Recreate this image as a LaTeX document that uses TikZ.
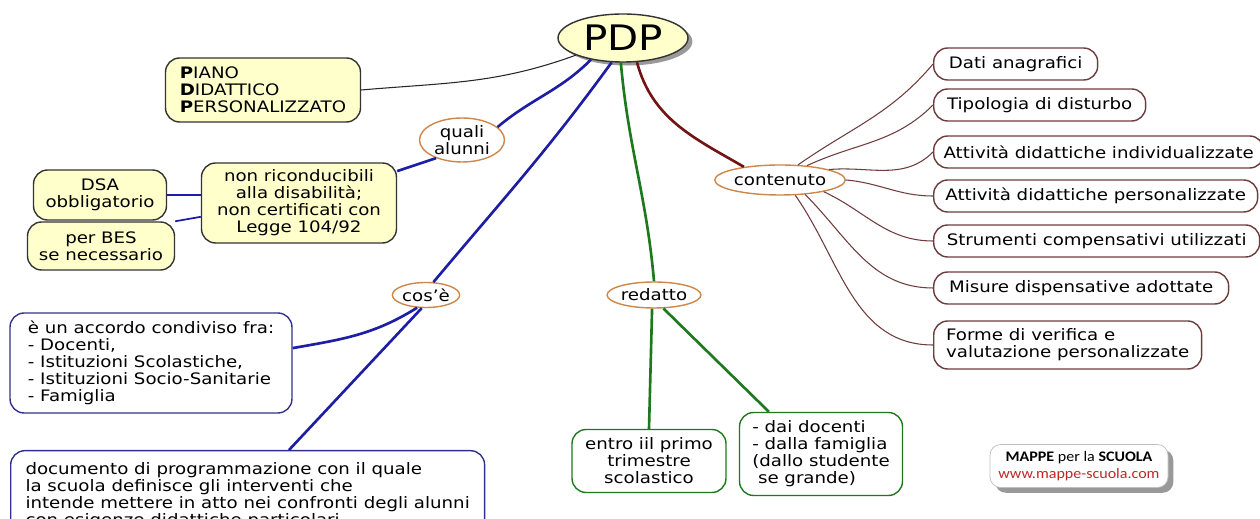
\documentclass[tikz,border=0pt]{standalone}
\usepackage{xcolor}
\usepackage{fontspec}
\setmainfont[FakeStretch=1.15]{DejaVu Sans}
\newfontfamily\logofont[FakeStretch=1.1]{Carlito}
\usepackage{tikz}
\usetikzlibrary{shapes.geometric}
\usetikzlibrary{shadows}
\usetikzlibrary{calc}

\definecolor{mapyellow}{RGB}{255,255,204}
\definecolor{mapblue}{RGB}{30,30,165}
\definecolor{boxblue}{RGB}{50,50,140}
\definecolor{mapgreen}{RGB}{30,120,30}
\definecolor{mapred}{RGB}{115,20,20}
\definecolor{mapbrown}{RGB}{110,60,60}
\definecolor{maporange}{RGB}{205,135,75}
\definecolor{logored}{RGB}{190,40,40}

\tikzset{
  mapbox/.style={draw, rounded corners=8pt, line width=0.8pt, inner xsep=5pt, inner ysep=3pt,
    font=\fontsize{9}{9.7}\selectfont},
  yellowbox/.style={mapbox, draw=black!80, fill=mapyellow},
  bluebox/.style={mapbox, draw=boxblue, fill=white},
  greenbox/.style={mapbox, draw=mapgreen, fill=white},
  brownbox/.style={mapbox, draw=mapbrown, fill=white, anchor=west, align=left, minimum height=0.64cm},
  linkword/.style={ellipse, draw=maporange, line width=0.8pt, fill=white, inner sep=0pt,
    font=\fontsize{9}{9.7}\selectfont},
  thicklink/.style={line width=1.5pt},
  thinlink/.style={line width=0.6pt},
}

\begin{document}
\begin{tikzpicture}[x=0.02cm, y=0.02cm]
    \useasboundingbox[fill=white] (0,0) rectangle (1260,-519);

    \node[ellipse, draw=black!80, line width=0.8pt, fill=mapyellow, minimum width=2.6cm, minimum height=0.96cm,
      inner sep=0pt, font=\fontsize{20}{20}\selectfont,
      drop shadow={fill=black!40, opacity=1, shadow xshift=2.5pt, shadow yshift=-2pt}] (pdp) at (623,-38) {PDP};

    \node[yellowbox, align=left, minimum width=3.9cm, minimum height=1.28cm] (piano) at (263,-90)
      {\textbf{P}IANO\\\textbf{D}IDATTICO\\\textbf{P}ERSONALIZZATO};
    \node[linkword, align=center, minimum width=1.7cm, minimum height=0.88cm] (quali) at (462,-140) {quali\\alunni};
    \node[yellowbox, align=center, minimum width=3.9cm, minimum height=1.6cm] (nonric) at (299,-203)
      {non riconducibili\\alla disabilità;\\non certificati con\\Legge 104/92};
    \node[yellowbox, align=center, minimum width=2.66cm, minimum height=1cm] (dsa) at (100,-195) {DSA\\obbligatorio};
    \node[yellowbox, align=center, minimum width=2.94cm, minimum height=0.96cm] (bes) at (101,-246) {per BES\\se necessario};

    \node[linkword, minimum width=1.24cm, minimum height=0.5cm] (cose) at (426,-295) {cos'è};
    \node[bluebox, align=left, minimum width=5.64cm, minimum height=2cm] (accordo) at (151,-363)
      {è un accordo condiviso fra:\\- Docenti,\\- Istituzioni Scolastiche,\\- Istituzioni Socio-Sanitarie\\- Famiglia};
    \node[bluebox, align=left, anchor=north west, minimum width=9.48cm, minimum height=1.8cm] (documento) at (10,-450)
      {documento di programmazione con il quale\\la scuola definisce gli interventi che\\intende mettere in atto nei confronti degli alunni\\con esigenze didattiche particolari};

    \node[linkword, minimum width=1.56cm, minimum height=0.52cm] (redatto) at (654,-295) {redatto};
    \node[greenbox, align=center, minimum width=3.08cm, minimum height=1.26cm] (entro) at (649,-461)
      {entro iil primo\\trimestre\\scolastico};
    \node[greenbox, align=left, minimum width=3.26cm, minimum height=1.66cm] (dai) at (821,-454)
      {- dai docenti\\- dalla famiglia\\(dallo studente\\\ se grande)};

    \node[linkword, minimum width=2.06cm, minimum height=0.6cm] (contenuto) at (780,-180) {contenuto};
    \node[brownbox, minimum width=3.28cm] (dati) at (933,-64) {Dati anagrafici};
    \node[brownbox, minimum width=4.24cm] (tipo) at (933,-105) {Tipologia di disturbo};
    \node[brownbox, minimum width=6.6cm] (indiv) at (933,-152) {Attività didattiche individualizzate};
    \node[brownbox, minimum width=6.48cm] (pers) at (933,-196) {Attività didattiche personalizzate};
    \node[brownbox, minimum width=6.52cm] (strum) at (933,-241) {Strumenti compensativi utilizzati};
    \node[brownbox, minimum width=5.9cm] (misure) at (933,-288) {Misure dispensative adottate};
    \node[brownbox, minimum width=5.36cm, minimum height=0.96cm] (forme) at (933,-345)
      {Forme di verifica e\\valutazione personalizzate};

    \node[draw=black!25, fill=white, rounded corners=6pt, minimum width=3.56cm, minimum height=0.86cm,
      align=center, inner sep=2pt, font=\logofont\fontsize{8.3}{10}\selectfont,
      drop shadow={fill=black!40, opacity=1, shadow xshift=3pt, shadow yshift=-3pt}] (logo) at (1079,-466)
      {\textbf{MAPPE} per la \textbf{SCUOLA}\\\textcolor{logored}{www.mappe-scuola.com}};

    \draw[thinlink, black!85] (pdp.200) to[out=200, in=5] (piano.east);
    \draw[thicklink, mapblue] (pdp.214) to[out=225, in=40] (quali.20);
    \draw[thicklink, mapblue] (quali.215) -- (nonric.18);
    \draw[line width=1pt, mapblue] (dsa.east) -- (dsa.east -| nonric.west);
    \draw[line width=1pt, mapblue] (bes.north east) -- (nonric.188);
    \draw[thicklink, mapblue] (pdp.245) to[out=234, in=50] (cose.60);
    \draw[thicklink, mapblue] (cose.235) to[out=212, in=10] (accordo.6);
    \draw[thicklink, mapblue] (cose.252) -- ($(documento.north west)!0.587!(documento.north east)$);
    \draw[thicklink, mapgreen] (pdp.265) to[out=-85, in=95] (redatto.north);
    \draw[thicklink, mapgreen] (redatto.262) -- (entro.north);
    \draw[thicklink, mapgreen] (redatto.305) -- (dai.141);
    \draw[thicklink, mapred] (pdp.300) to[out=-75, in=150] (contenuto.160);
    \draw[thinlink, mapbrown] (contenuto.40) to[out=35, in=230] (dati.west);
    \draw[thinlink, mapbrown] (contenuto.28) to[out=25, in=225] (tipo.west);
    \draw[thinlink, mapbrown] (contenuto.12) to[out=5, in=225] (indiv.west);
    \draw[thinlink, mapbrown] (contenuto.0) to[out=-5, in=180] (pers.west);
    \draw[thinlink, mapbrown] (contenuto.-15) to[out=-25, in=180] (strum.west);
    \draw[thinlink, mapbrown] (contenuto.-30) to[out=-45, in=180] (misure.west);
    \draw[thinlink, mapbrown] (contenuto.-45) to[out=-55, in=180] (forme.west);
\end{tikzpicture}
\end{document}
